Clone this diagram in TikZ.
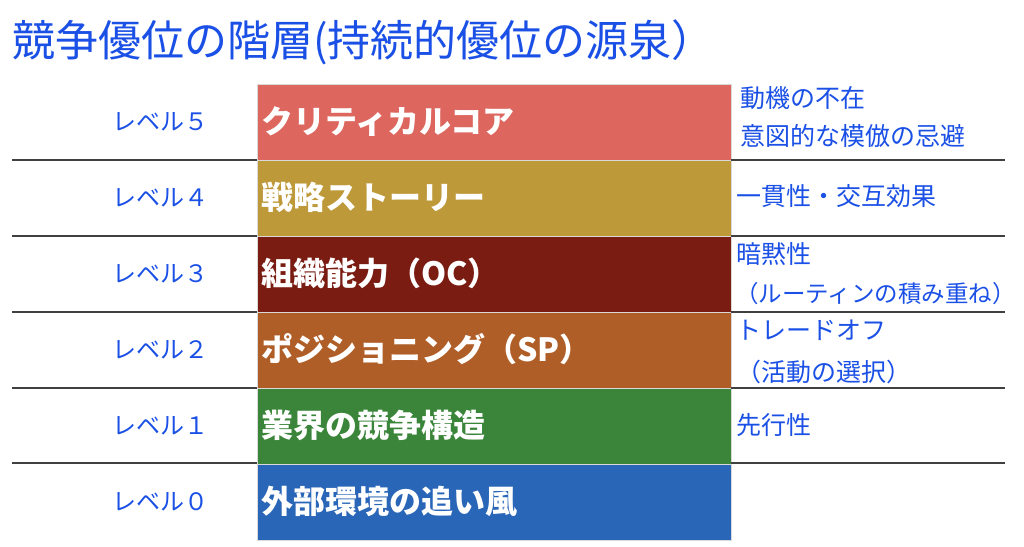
\documentclass[tikz,border=0pt]{standalone}
\usepackage{fontspec}
\setmainfont{Noto Sans CJK JP}
\begin{document}
\begin{tikzpicture}[x=1pt,y=-1pt,
  layer/.style={anchor=north west,minimum width=474pt,minimum height=76pt,inner sep=0pt,draw=black!15,line width=0.4pt},
  layertext/.style={anchor=west,text=white,font=\fontsize{32}{36}\selectfont\bfseries,inner sep=0pt},
  lvl/.style={anchor=center,text=lblue,font=\fontsize{24}{28}\selectfont,inner sep=0pt},
  note/.style={anchor=west,text=lblue,font=\fontsize{25}{29}\selectfont,inner sep=0pt},
  sep/.style={draw=black!75,line width=1.3pt}]
\definecolor{lblue}{HTML}{1A50E6}
\definecolor{cfive}{HTML}{DD665F}
\definecolor{cfour}{HTML}{BE9939}
\definecolor{cthree}{HTML}{7A1C12}
\definecolor{ctwo}{HTML}{B05E28}
\definecolor{cone}{HTML}{3A8539}
\definecolor{czero}{HTML}{2A66B8}
\useasboundingbox (0,0) rectangle (1024,546);
\fill[white] (0,0) rectangle (1024,546);
% title
\node[anchor=west,text=lblue,font=\fontsize{43}{48}\selectfont,inner sep=0pt] (title) at (12,42) {競争優位の階層(持続的優位の源泉）};
% layers
\node[layer,fill=cfive]  (L5) at (257,84)  {};
\node[layer,fill=cfour]  (L4) at (257,160) {};
\node[layer,fill=cthree] (L3) at (257,236) {};
\node[layer,fill=ctwo]   (L2) at (257,312) {};
\node[layer,fill=cone]   (L1) at (257,388) {};
\node[layer,fill=czero]  (L0) at (257,464) {};
\node[layertext] (T5) at (261,122) {クリティカルコア};
\node[layertext] (T4) at (261,197) {戦略ストーリー};
\node[layertext] (T3) at (261,273) {組織能力（OC）};
\node[layertext] (T2) at (261,349) {ポジショニング（SP）};
\node[layertext] (T1) at (261,425) {業界の競争構造};
\node[layertext] (T0) at (261,501) {外部環境の追い風};
% level labels
\node[lvl] (V5) at (160,122) {レベル５};
\node[lvl] (V4) at (160,198) {レベル４};
\node[lvl] (V3) at (160,274) {レベル３};
\node[lvl] (V2) at (160,350) {レベル２};
\node[lvl] (V1) at (160,426) {レベル１};
\node[lvl] (V0) at (160,502) {レベル０};
% separators
\foreach \y/\n in {160/a,236/b,312/c,388/d,463/e}{
  \coordinate (la\n) at (12,\y);
  \coordinate (lb\n) at (257,\y);
  \coordinate (ra\n) at (731,\y);
  \coordinate (rb\n) at (1005,\y);
  \draw[sep] (la\n) -- (lb\n);
  \draw[sep] (ra\n) -- (rb\n);
}
% notes
\node[note] (N5a) at (740,98)  {動機の不在};
\node[note] (N5b) at (740,136) {意図的な模倣の忌避};
\node[note] (N4)  at (736,196) {一貫性・交互効果};
\node[note] (N3a) at (736,254) {暗黙性};
\node[note,font=\fontsize{23.5}{28}\selectfont] (N3b) at (735,294) {（ルーティンの積み重ね）};
\node[note] (N2a) at (736,330) {トレードオフ};
\node[note] (N2b) at (736,372) {（活動の選択）};
\node[note] (N1)  at (736,425) {先行性};
\end{tikzpicture}
\end{document}
